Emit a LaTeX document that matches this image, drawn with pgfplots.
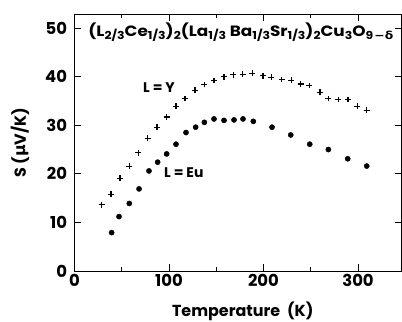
\documentclass[border=0pt]{standalone}
\usepackage{fontspec}
\setmainfont{Poppins}
\newfontfamily\dejavu{DejaVu Sans}
\usepackage{graphicx}
\usepackage{pgfplots}
\pgfplotsset{compat=1.18}
\newcommand\sub[1]{\raisebox{-0.4ex}{\fontsize{11}{11}\selectfont #1}}
\begin{document}
\begin{tikzpicture}
\begin{axis}[
 scale only axis, width=327bp, height=257bp,
 xmin=0, xmax=346, ymin=0, ymax=52.9,
 xtick={0,100,200,300}, minor xtick={50,150,250},
 ytick={0,10,20,30,40,50},
 tick align=inside, major tick length=7bp, minor tick length=4bp,
 every tick/.style={black, line width=0.9pt},
 axis line style={line width=1pt},
 tick label style={font=\fontsize{16.5}{16.5}\selectfont\bfseries},
 yticklabel style={xshift=-4bp},
 /pgf/number format/assume math mode=true,
 xlabel={Temperature\ \ (K)}, ylabel={S ({\dejavu\bfseries μ}V/K)},
 every axis x label/.style={at={(axis cs:178,0)}, anchor=base, yshift=-45bp},
 every axis y label/.style={at={(rel axis cs:0,0.5)}, xshift=-54.5bp, rotate=90, anchor=center},
 label style={font=\fontsize{16}{16}\selectfont\bfseries},
 clip=false,
]
\coordinate (O) at (rel axis cs:0,0);
\addplot[only marks, mark=+, mark size=2.9bp, line width=1.1pt] coordinates {
(28.8,13.6)(38.6,15.8)(48.1,19.1)(58,21.6)(67.5,24.3)(77.4,27.3)(87.3,29.6)(97.5,31.7)(107.4,33.9)(116.9,35.5)(127.5,37.2)(137.4,38.4)(147.6,39.2)(158.2,40.0)(168,40.4)(178,40.5)(188,40.7)(199.5,40.2)(208.3,39.9)(219.2,39.4)(229.4,39.3)(239.3,38.5)(248.5,38.2)(259.8,36.8)(268.6,35.5)(279.2,35.3)(289.4,35.3)(299.3,33.9)(309.2,33.1)
};
\addplot[only marks, mark=*, mark size=2.6bp] coordinates {
(39.3,7.9)(47.1,11.2)(58,13.9)(68.3,16.9)(78.8,20.6)(88,22.4)(97.5,24.1)(107.4,26.1)(118,28.5)(128.2,29.6)(137.4,30.6)(147.6,31.3)(158.2,31.0)(168.8,31.1)(178.3,31.3)(189.2,30.8)(209,29.6)(228.8,28.0)(248.9,26.1)(268.6,25.0)(289.1,23.1)(309.2,21.6)
};
\node[anchor=west, font=\fontsize{14}{14}\selectfont\bfseries, inner sep=0pt] at (axis cs:72.5,37.7) {L = Y};
\node[anchor=west, font=\fontsize{14}{14}\selectfont\bfseries, inner sep=0pt] at (axis cs:94.7,20.2) {L = Eu};
\node[anchor=west, font=\fontsize{15}{15}\selectfont\bfseries, inner sep=0pt] at (axis cs:14.5,49.2) {\scalebox{1.13}[1]{(L\sub{2/3}Ce\sub{1/3})\sub{2}(La\sub{1/3} Ba\sub{1/3}Sr\sub{1/3})\sub{2}Cu\sub{3}O\sub{9\hspace{0.1em}\dejavu−δ}}};
\end{axis}
\pgfresetboundingbox
\path ([shift={(-74.5bp,-51bp)}]O) rectangle ++(402bp,322bp);
\end{tikzpicture}
\end{document}
